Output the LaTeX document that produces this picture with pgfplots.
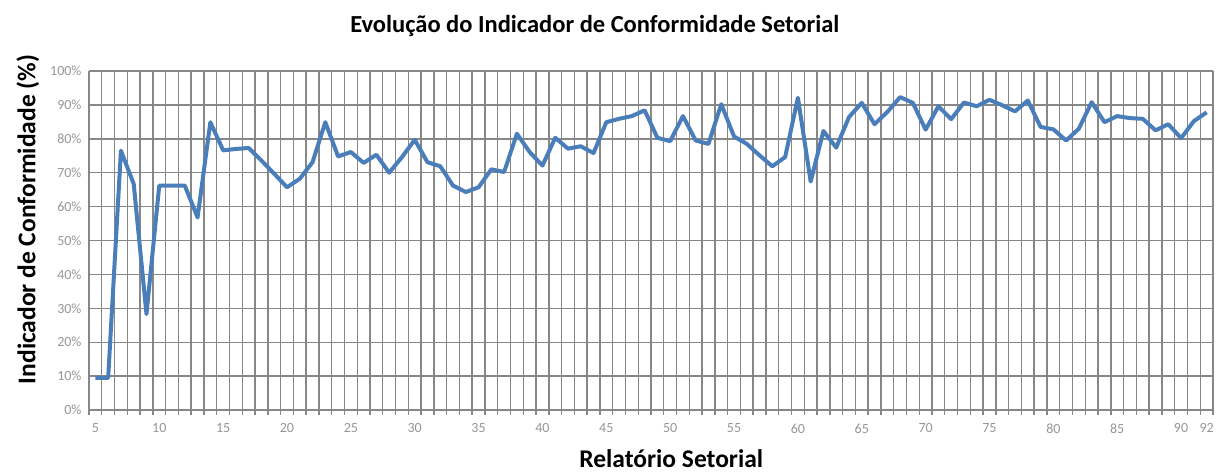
\documentclass[border=0pt]{standalone}
\usepackage{fontspec}
\setmainfont{Carlito}
\usepackage{pgfplots}
\pgfplotsset{compat=1.18}
\definecolor{linhaazul}{RGB}{74,126,187}
\definecolor{grade}{RGB}{135,135,135}
\definecolor{rotulo}{RGB}{150,150,150}

\pgfplotstableread{
rel ind
5 9.5
6 9.5
7 76.5
8 66.7
9 28.3
10 66.2
11 66.2
12 66.2
13 56.8
14 84.9
15 76.6
16 77.0
17 77.3
18 73.6
19 69.7
20 65.7
21 68.2
22 73.1
23 84.9
24 74.8
25 76.1
26 72.9
27 75.3
28 70.0
29 74.6
30 79.7
31 73.1
32 71.9
33 66.2
34 64.3
35 65.7
36 71.0
37 70.2
38 81.5
39 76.1
40 72.1
41 80.3
42 77.1
43 77.8
44 75.8
45 84.9
46 85.9
47 86.7
48 88.4
49 80.3
50 79.3
51 86.7
52 79.5
53 78.5
54 90.2
55 80.7
56 78.5
57 75.1
58 71.9
59 74.6
60 92.1
61 67.4
62 82.3
63 77.4
64 86.4
65 90.6
66 84.3
67 87.9
68 92.3
69 90.6
70 82.7
71 89.6
72 85.8
73 90.7
74 89.6
75 91.5
76 89.9
77 88.1
78 91.3
79 83.5
80 82.8
81 79.5
82 83.0
83 90.8
84 84.9
85 86.7
86 86.1
87 85.9
88 82.5
89 84.3
90 80.2
91 85.2
92 87.8
}\dados

\begin{document}
\begin{tikzpicture}
\begin{axis}[
  scale only axis,
  width=1124pt, height=339pt,
  xmin=4.5, xmax=92.5,
  ymin=0, ymax=100,
  axis x line*=bottom, axis y line*=left,
  axis line style={grade, line width=1.4pt},
  xtick={5,10,...,90,92},
  minor xtick={4.5,5.5,...,92.5},
  ytick={0,10,...,100},
  xmajorgrids=false, xminorgrids, ymajorgrids,
  grid style={grade, line width=1.4pt},
  minor grid style={grade, line width=1.4pt},
  tick align=outside,
  major tick length=0pt,
  minor tick length=5pt,
  ytick style={draw=none},
  minor tick style={grade, line width=1.4pt},
  yticklabel={\pgfmathprintnumber{\tick}\%},
  /pgf/number format/assume math mode=true,
  tick label style={font=\fontsize{14}{16}\selectfont, text=rotulo},
  xticklabel style={yshift=-10pt},
  yticklabel style={xshift=-4pt},
  title={Evolução do Indicador de Conformidade Setorial},
  title style={font=\fontsize{24.5}{28}\bfseries, at={(axis description cs:0.45,1.115)}, anchor=center},
  xlabel={Relatório Setorial},
  xlabel style={font=\fontsize{25.5}{30}\bfseries, at={(axis description cs:0.518,-0.142)}, anchor=center},
  ylabel={Indicador de Conformidade (\%)},
  ylabel style={font=\fontsize{25.5}{30}\bfseries, at={(axis description cs:-0.0543,0.562)}, rotate=0, anchor=center},
]
\addplot[linhaazul, line width=4pt, line join=round] table[x=rel, y=ind] {\dados};
\coordinate (bl) at (axis description cs:0,0);
\coordinate (tr) at (axis description cs:1,1);
\end{axis}
\path ([shift={(-89pt,-64pt)}]bl) rectangle ([shift={(5pt,71pt)}]tr);
\end{tikzpicture}
\end{document}
